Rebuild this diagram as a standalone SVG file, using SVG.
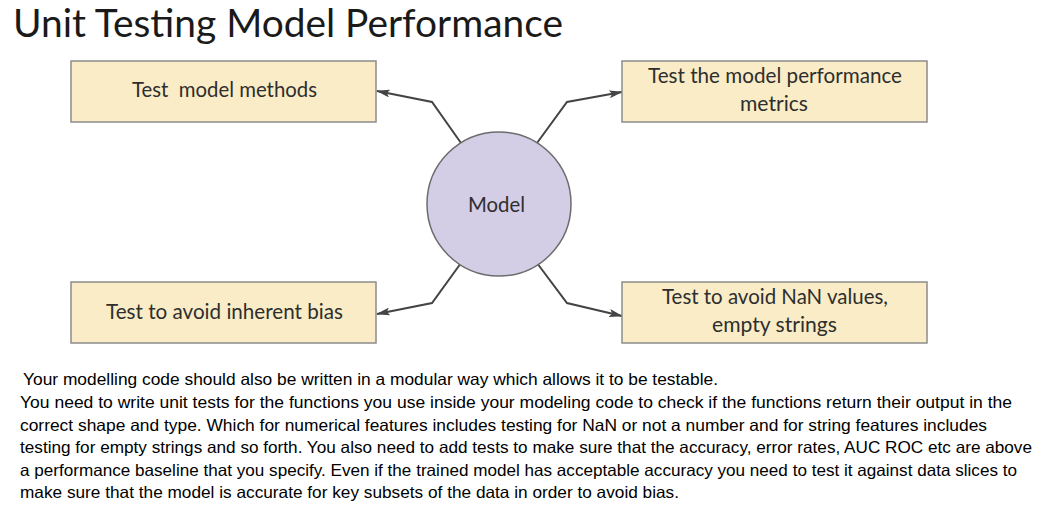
<svg xmlns="http://www.w3.org/2000/svg" width="1047" height="515" viewBox="0 0 1047 515">
<style>
.box{fill:#f9ecc6;stroke:#8c8c8c;stroke-width:1.5}
.circ{fill:#d4cde6;stroke:#6c6c6c;stroke-width:1.5}
.lbl{font-family:Lato,"Open Sans","Liberation Sans",sans-serif;font-size:21px;fill:#2e2e2e}
.title{font-family:Lato,"Open Sans","Liberation Sans",sans-serif;font-size:38px;fill:#1a1a1a}
.para{font-family:"Liberation Sans",Arial,sans-serif;font-size:16.5px;fill:#000}
.conn{fill:none;stroke:#444;stroke-width:2;stroke-linejoin:miter}
</style>
<defs>
<marker id="arr" viewBox="0 0 14 8" refX="13" refY="4" markerWidth="14" markerHeight="8" markerUnits="userSpaceOnUse" orient="auto">
<path d="M0,0 L14,4 L0,8 L3,4 Z" fill="#444"/>
</marker>
</defs>
<rect width="1047" height="515" fill="#ffffff"/>
<text class="title" x="13" y="37" textLength="550" lengthAdjust="spacingAndGlyphs">Unit Testing Model Performance</text>

<g id="connectors">
<polyline class="conn" points="461,143 432,102 377,91" marker-end="url(#arr)"/>
<polyline class="conn" points="537,143 567,102 622,92" marker-end="url(#arr)"/>
<polyline class="conn" points="461,263 432,303 377,314" marker-end="url(#arr)"/>
<polyline class="conn" points="537,263 567,303 622,316" marker-end="url(#arr)"/>
</g>

<g id="node-methods">
<rect class="box" x="71" y="61" width="305" height="61"/>
<text class="lbl" x="132" y="97" xml:space="preserve" textLength="185" lengthAdjust="spacingAndGlyphs">Test  model methods</text>
</g>
<g id="node-metrics">
<rect class="box" x="622" y="61" width="305" height="61"/>
<text class="lbl" x="648" y="83" textLength="254" lengthAdjust="spacingAndGlyphs">Test the model performance</text>
<text class="lbl" x="740" y="111" textLength="68" lengthAdjust="spacingAndGlyphs">metrics</text>
</g>
<g id="node-model">
<circle class="circ" cx="499" cy="204" r="72"/>
<text class="lbl" x="468" y="212" textLength="57" lengthAdjust="spacingAndGlyphs">Model</text>
</g>
<g id="node-bias">
<rect class="box" x="71" y="282" width="305" height="61"/>
<text class="lbl" x="106" y="319" textLength="237" lengthAdjust="spacingAndGlyphs">Test to avoid inherent bias</text>
</g>
<g id="node-nan">
<rect class="box" x="622" y="282" width="305" height="61"/>
<text class="lbl" x="662" y="304" textLength="226" lengthAdjust="spacingAndGlyphs">Test to avoid NaN values,</text>
<text class="lbl" x="712" y="332" textLength="125" lengthAdjust="spacingAndGlyphs">empty strings</text>
</g>

<g id="paragraph">
<text class="para" x="23" y="385" textLength="695" lengthAdjust="spacingAndGlyphs">Your modelling code should also be written in a modular way which allows it to be testable.</text>
<text class="para" x="20" y="408" textLength="992" lengthAdjust="spacingAndGlyphs">You need to write unit tests for the functions you use inside your modeling code to check if the functions return their output in the</text>
<text class="para" x="20" y="431" textLength="967" lengthAdjust="spacingAndGlyphs">correct shape and type. Which for numerical features includes testing for NaN or not a number and for string features includes</text>
<text class="para" x="20" y="453" textLength="1012" lengthAdjust="spacingAndGlyphs">testing for empty strings and so forth. You also need to add tests to make sure that the accuracy, error rates, AUC ROC etc are above</text>
<text class="para" x="20" y="476" textLength="997" lengthAdjust="spacingAndGlyphs">a performance baseline that you specify. Even if the trained model has acceptable accuracy you need to test it against data slices to</text>
<text class="para" x="20" y="498" textLength="659" lengthAdjust="spacingAndGlyphs">make sure that the model is accurate for key subsets of the data in order to avoid bias.</text>
</g>
</svg>
